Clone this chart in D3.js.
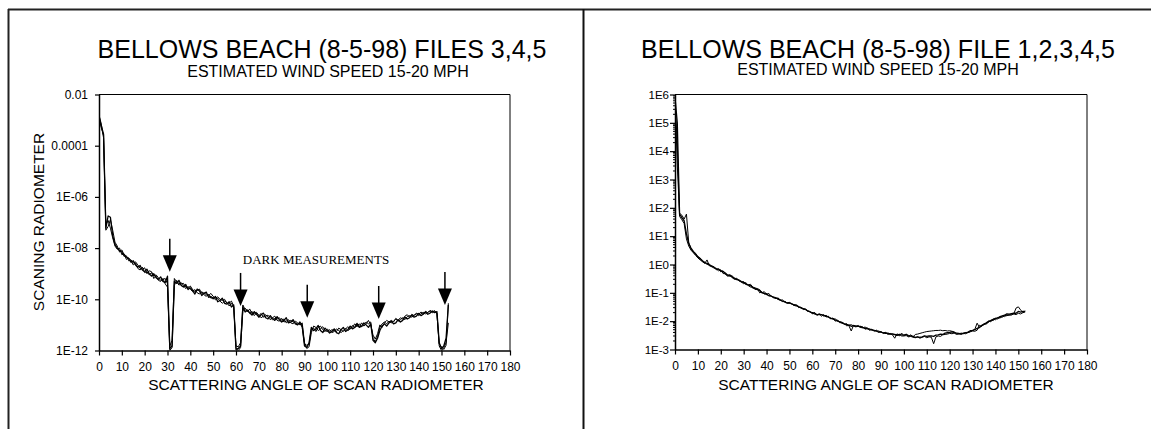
<!DOCTYPE html>
<html>
<head>
<meta charset="utf-8">
<script src="https://cdn.jsdelivr.net/npm/d3@7"></script>
<style>
body { margin: 0; background: #fff; }
svg { display: block; font-family: "Liberation Sans", Arial, sans-serif; }
</style>
</head>
<body>
<div id="chart"></div>
<script>
// scan angle of every sample, degrees
var scanAngles = [0,1,2,3,4,5,6,7,8,9,10,11,12,13,14,15,16,17,18,19,20,21,22,23,24,25,26,27,28,29,
    30,31,32,33,34,35,36,37,38,39,40,41,42,43,44,45,46,47,48,49,50,51,52,53,54,55,56,57,58,59,
    60,61,62,63,64,65,66,67,68,69,70,71,72,73,74,75,76,77,78,79,80,81,82,83,84,85,86,87,88,89,
    90,91,92,93,94,95,96,97,98,99,100,101,102,103,104,105,106,107,108,109,110,111,112,113,114,115,116,117,118,119,
    120,121,122,123,124,125,126,127,128,129,130,131,132,133,134,135,136,137,138,139,140,141,142,143,144,145,146,147,148,149,
    150,151,152,153];
var xTicks = [0,10,20,30,40,50,60,70,80,90,100,110,120,130,140,150,160,170,180];

// left chart: files 3,4,5
var leftYTicks = [1e-2, 1e-4, 1e-6, 1e-8, 1e-10, 1e-12];
var leftYLabels = ["0.01", "0.0001", "1E-06", "1E-08", "1E-10", "1E-12"];
var file3 = [1.4e-3,6e-4,2.8e-4,6e-8,1.8e-7,1.6e-7,3e-8,1.4e-8,1e-8,8e-9,7e-9,5e-9,4.5e-9,3.8e-9,2.8e-9,3.2e-9,2.2e-9,1.8e-9,2.1e-9,1.4e-9,
    1.2e-9,1.5e-9,1e-9,8e-10,1e-9,7e-10,6e-10,7.5e-10,5e-10,4.5e-10,8e-10,1.2e-12,1.5e-12,5e-10,4.2e-10,5.5e-10,3.5e-10,3e-10,3.8e-10,2.4e-10,
    2.8e-10,2.2e-10,1.6e-10,2.5e-10,2.1e-10,1.4e-10,1.7e-10,1.9e-10,1.2e-10,1.3e-10,1.05e-10,1.3e-10,8e-11,9e-11,1.1e-10,7e-11,6.5e-11,8e-11,5e-11,6e-11,
    1.1e-12,1.2e-12,1.5e-12,5e-11,3.2e-11,3.8e-11,3e-11,2.4e-11,3.3e-11,2.6e-11,2e-11,2.5e-11,2.9e-11,1.9e-11,1.7e-11,2.3e-11,1.8e-11,1.5e-11,2.1e-11,1.6e-11,
    1.3e-11,1.5e-11,1.9e-11,1.2e-11,1.3e-11,1.6e-11,1.1e-11,1e-11,1.3e-11,9e-12,1.5e-12,1.3e-12,2e-12,8e-12,6e-12,7e-12,9.5e-12,6e-12,5e-12,7.5e-12,
    6e-12,4.8e-12,5.5e-12,7e-12,5e-12,4.5e-12,6.5e-12,8e-12,5.5e-12,6.5e-12,9e-12,7e-12,8e-12,1.15e-11,8e-12,9e-12,1.2e-11,1e-11,8e-12,1.1e-11,
    2.5e-12,2e-12,3e-12,6e-12,9e-12,1.1e-11,9e-12,1.2e-11,1.4e-11,1.1e-11,1.2e-11,1.6e-11,1.3e-11,1.5e-11,2e-11,1.7e-11,1.9e-11,2.4e-11,2e-11,2.2e-11,
    2.8e-11,2.3e-11,2.6e-11,3.2e-11,2.6e-11,2.9e-11,3.5e-11,3e-11,3.3e-11,2e-12,1.2e-12,1.5e-12,3e-12,6e-11];
var file4 = [1.2e-3,5e-4,2.5e-4,8e-8,1.2e-7,6e-8,2.5e-8,1.2e-8,9e-9,1e-8,5.5e-9,6e-9,3.6e-9,4.2e-9,3.2e-9,2.2e-9,2.6e-9,1.6e-9,1.4e-9,1.8e-9,
    1.1e-9,1.2e-9,9e-10,1.1e-9,6.5e-10,8e-10,5.5e-10,5e-10,6.5e-10,4e-10,3e-10,1e-12,1.3e-12,3.5e-10,5.5e-10,4e-10,4.5e-10,3.5e-10,2.6e-10,3.2e-10,
    2.5e-10,2e-10,2.4e-10,1.8e-10,1.6e-10,2e-10,1.5e-10,1.3e-10,1.6e-10,1.1e-10,1.2e-10,9.5e-11,1.1e-10,8.5e-11,7e-11,8.5e-11,7.5e-11,5.5e-11,7e-11,5e-11,
    1.2e-12,1e-12,1.3e-12,3.5e-11,4.5e-11,3.6e-11,2.8e-11,3.4e-11,2.3e-11,2.9e-11,2.4e-11,1.9e-11,2.2e-11,2.5e-11,2e-11,1.6e-11,1.9e-11,2.2e-11,1.5e-11,1.4e-11,
    1.8e-11,1.3e-11,1.4e-11,1.6e-11,1.2e-11,1.1e-11,1.4e-11,1.2e-11,1e-11,1.2e-11,2e-12,1.2e-12,1.4e-12,5e-12,9e-12,8e-12,6e-12,7e-12,8.5e-12,6e-12,
    5.5e-12,6.5e-12,5e-12,5.5e-12,7e-12,6e-12,5e-12,6e-12,7.5e-12,6e-12,7e-12,9.5e-12,8e-12,9e-12,1.1e-11,8.5e-12,1e-11,1.3e-11,1.1e-11,1.3e-11,
    3e-12,2.2e-12,3.5e-12,8e-12,1.1e-11,1.3e-11,1.1e-11,1.4e-11,1.2e-11,1.4e-11,1.7e-11,1.4e-11,1.6e-11,1.9e-11,1.6e-11,2.1e-11,2.3e-11,2e-11,2.4e-11,2.7e-11,
    2.3e-11,2.7e-11,3.1e-11,2.7e-11,3.1e-11,3.5e-11,3e-11,3.4e-11,2.9e-11,1.5e-12,1e-12,1.3e-12,2e-12,1.2e-11];
var file5 = [1.6e-3,7e-4,2e-4,5e-8,7e-8,1.3e-7,5e-8,1.7e-8,1.2e-8,7e-9,8.5e-9,5.5e-9,5e-9,3.2e-9,3.5e-9,2.6e-9,2.9e-9,2.2e-9,1.6e-9,1.5e-9,
    1.7e-9,1e-9,1.3e-9,1.2e-9,8e-10,9e-10,7e-10,5.5e-10,6e-10,6.5e-10,4e-10,1.5e-12,2.5e-12,6.5e-10,4.8e-10,3.6e-10,4e-10,4.2e-10,3e-10,2.7e-10,
    3.3e-10,2.4e-10,2e-10,2.2e-10,2.5e-10,1.7e-10,1.8e-10,1.5e-10,1.4e-10,1.7e-10,1.3e-10,1.1e-10,1.25e-10,1e-10,9e-11,1e-10,7e-11,7e-11,8.5e-11,5.5e-11,
    1.5e-12,1.4e-12,2e-12,6e-11,4e-11,3.2e-11,4.2e-11,2.7e-11,2.8e-11,3.1e-11,2.3e-11,2.8e-11,2e-11,2.2e-11,2.4e-11,1.9e-11,1.6e-11,1.8e-11,1.7e-11,1.9e-11,
    1.5e-11,1.7e-11,1.2e-11,1.4e-11,1.5e-11,1.3e-11,1.2e-11,1.1e-11,1.15e-11,8e-12,1.8e-12,1.6e-12,1.8e-12,7e-12,7.5e-12,5.5e-12,8e-12,9e-12,6.5e-12,5.5e-12,
    7e-12,5.5e-12,6.5e-12,6e-12,5.5e-12,7.5e-12,6.5e-12,5.5e-12,7e-12,8.5e-12,7e-12,8e-12,1.1e-11,9e-12,8.5e-12,1.2e-11,9e-12,1.1e-11,1.5e-11,1e-11,
    4e-12,2.8e-12,4.5e-12,1e-11,8e-12,1.2e-11,1.5e-11,1.3e-11,1.5e-11,1.3e-11,1.8e-11,1.5e-11,1.9e-11,1.7e-11,2.2e-11,2.5e-11,2e-11,2.6e-11,2.3e-11,2.9e-11,
    2.6e-11,3.2e-11,2.7e-11,3.4e-11,3e-11,3.7e-11,3.2e-11,3.6e-11,2.7e-11,1.8e-12,1.4e-12,1.1e-12,1.6e-12,7e-11];
var darkAngles = [31, 62, 91.2, 122.5, 151.5];
var darkTips = [1.2e-9, 5.5e-11, 1.9e-11, 1.7e-11, 6e-11];
var darkLabelAt = [63, 2.3e-9];

// right chart: files 1,2,3,4,5
var rightYTicks = [1e6, 1e5, 1e4, 1e3, 1e2, 1e1, 1e0, 1e-1, 1e-2, 1e-3];
var rightYLabels = ["1E6", "1E5", "1E4", "1E3", "1E2", "1E1", "1E0", "1E-1", "1E-2", "1E-3"];
var run1 = [8e5,1e5,60,45,35,12,5.5,3.8,2.9,2.3,1.9,1.6,1.35,1.15,1.1,0.95,0.9,0.8,0.72,0.7,
    0.6,0.56,0.5,0.42,0.43,0.36,0.33,0.29,0.28,0.25,0.23,0.2,0.19,0.18,0.15,0.14,0.13,0.12,0.1,0.095,
    0.088,0.08,0.076,0.07,0.064,0.065,0.055,0.051,0.048,0.043,0.044,0.041,0.038,0.037,0.032,0.03,0.028,0.026,0.023,0.021,
    0.02,0.018,0.017,0.017,0.017,0.016,0.015,0.014,0.0125,0.012,0.011,0.01,0.0095,0.0085,0.008,0.0076,0.0072,0.0066,0.0069,0.0068,
    0.0066,0.0066,0.006,0.0056,0.0054,0.0053,0.0049,0.0047,0.0045,0.0041,0.0041,0.0039,0.0037,0.0038,0.0035,0.0035,0.0034,0.0032,0.0034,0.0033,
    0.0032,0.0034,0.0031,0.003,0.0029,0.0027,0.0028,0.0027,0.0028,0.003,0.0029,0.003,0.003,0.0029,0.0032,0.0033,0.0035,0.0034,0.0038,0.0039,
    0.004,0.0042,0.0039,0.0038,0.0037,0.0035,0.0038,0.0039,0.0041,0.0046,0.0047,0.005,0.0056,0.0059,0.0071,0.0079,0.0087,0.01,0.0105,0.0115,
    0.0126,0.013,0.0145,0.0155,0.0162,0.018,0.0178,0.0186,0.019,0.019,0.022,0.021,0.022,0.022];
var run2 = [5e5,2e4,50,38,28,8,4.5,3.2,2.6,2.1,1.7,1.45,1.25,1.1,1.45,0.9,0.85,0.75,0.7,0.6,
    0.65,0.48,0.47,0.38,0.42,0.34,0.3,0.33,0.26,0.24,0.21,0.23,0.18,0.16,0.16,0.13,0.14,0.1,0.11,0.09,
    0.095,0.078,0.08,0.066,0.068,0.058,0.057,0.049,0.05,0.044,0.046,0.04,0.036,0.037,0.03,0.031,0.026,0.027,0.022,0.022,
    0.018,0.02,0.016,0.018,0.015,0.017,0.014,0.015,0.012,0.013,0.01,0.011,0.0088,0.009,0.0077,0.0082,0.0068,0.0045,0.0072,0.0064,
    0.0071,0.006,0.0063,0.0052,0.0057,0.0048,0.0052,0.0044,0.0048,0.0041,0.0043,0.0037,0.004,0.0034,0.0037,0.0033,0.0025,0.0036,0.003,0.0038,
    0.0031,0.0035,0.0029,0.0033,0.0028,0.0034,0.0035,0.0037,0.0039,0.0041,0.0043,0.0044,0.0045,0.0046,0.0047,0.0047,0.0048,0.0046,0.0047,0.0045,
    0.0046,0.0044,0.0042,0.0036,0.0035,0.0038,0.0036,0.004,0.0039,0.0043,0.0045,0.0044,0.0048,0.0072,0.0065,0.0082,0.0078,0.01,0.0095,0.012,
    0.011,0.0135,0.0128,0.015,0.0145,0.0165,0.016,0.017,0.018,0.029,0.032,0.025,0.02,0.021];
var run3 = [9e5,3e3,65,55,40,60,6,3.5,2.7,2.5,1.8,1.7,1.3,1.2,1.0,1.05,0.82,0.85,0.65,0.68,
    0.55,0.6,0.45,0.42,0.38,0.4,0.31,0.3,0.28,0.24,0.25,0.2,0.19,0.2,0.16,0.15,0.14,0.13,0.1,0.11,
    0.09,0.095,0.075,0.072,0.068,0.06,0.055,0.056,0.047,0.045,0.043,0.042,0.036,0.034,0.033,0.029,0.027,0.026,0.023,0.022,
    0.019,0.02,0.017,0.018,0.017,0.015,0.016,0.014,0.013,0.012,0.012,0.0105,0.0095,0.0092,0.0082,0.0068,0.0072,0.0075,0.0068,0.0063,
    0.0066,0.006,0.0058,0.0062,0.0057,0.005,0.0049,0.0047,0.0044,0.0045,0.0041,0.0039,0.004,0.0036,0.0035,0.0036,0.0033,0.0031,0.0034,0.003,
    0.003,0.0031,0.0028,0.0029,0.0027,0.0026,0.0028,0.0025,0.0027,0.0029,0.0026,0.0028,0.0027,0.0016,0.0028,0.003,0.0029,0.0033,0.0034,0.0035,
    0.0037,0.0036,0.0038,0.0034,0.0036,0.0035,0.0037,0.0036,0.004,0.0042,0.0046,0.0052,0.0085,0.006,0.0068,0.0075,0.0085,0.009,0.011,0.0105,
    0.0125,0.012,0.014,0.0138,0.016,0.0155,0.017,0.0165,0.018,0.017,0.019,0.018,0.02,0.023];
var rightMinorTicks = [];
rightYTicks.slice(1).forEach(function (t) {
    [2,3,4,5,6,7,8,9].forEach(function (m) { rightMinorTicks.push(t * m); });
});

var W = 1151, H = 429;
var svg = d3.select("#chart").append("svg")
    .attr("width", W)
    .attr("height", H);
svg.append("rect").attr("width", W).attr("height", H).attr("fill", "#fff");

// page frame
svg.append("line").attr("x1", 8).attr("x2", W).attr("y1", 9.5).attr("y2", 9.5)
    .attr("stroke", "#222").attr("stroke-width", 2);
svg.append("line").attr("x1", 8.5).attr("x2", 8.5).attr("y1", 9).attr("y2", H)
    .attr("stroke", "#222").attr("stroke-width", 2);
svg.append("line").attr("x1", 583.5).attr("x2", 583.5).attr("y1", 9).attr("y2", H)
    .attr("stroke", "#111").attr("stroke-width", 2);

function drawPanel(p) {
    var g = svg.append("g");
    var x = d3.scaleLinear().domain([0, 180]).range([p.left, p.right]);
    var y = d3.scaleLog().domain(p.yDomain).range([p.bottom, p.top]);

    g.append("text").attr("x", p.titleX).attr("y", 58)
        .attr("text-anchor", "middle").attr("font-size", "25px").text(p.title);
    g.append("text").attr("x", p.subX).attr("y", p.subY)
        .attr("text-anchor", "middle").attr("font-size", "16px").text("ESTIMATED WIND SPEED 15-20 MPH");

    var clipId = "clip" + p.id;
    g.append("clipPath").attr("id", clipId).append("rect")
        .attr("x", p.left).attr("y", p.top)
        .attr("width", p.right - p.left).attr("height", p.bottom - p.top);

    var line = d3.line()
        .x(function (d, i) { return x(scanAngles[i]); })
        .y(function (d) { return y(d); });
    g.append("g").attr("clip-path", "url(#" + clipId + ")")
        .selectAll("path")
        .data(p.series)
        .enter()
        .append("path")
        .attr("d", line)
        .attr("fill", "none")
        .attr("stroke", "#000")
        .attr("stroke-width", function (d, i) { return i == 0 ? 1.3 : 1; })
        .attr("stroke-linejoin", "round");

    // frame top/right
    g.append("line").attr("x1", p.left).attr("x2", p.right).attr("y1", p.top).attr("y2", p.top)
        .attr("stroke", "#000").attr("stroke-width", 1);
    g.append("line").attr("x1", p.right).attr("x2", p.right).attr("y1", p.top).attr("y2", p.bottom)
        .attr("stroke", "#000").attr("stroke-width", 1);

    var xAxis = d3.axisBottom(x).tickValues(xTicks).tickSize(5).tickSizeOuter(0).tickPadding(6.5);
    var gx = g.append("g").attr("transform", "translate(0," + p.bottom + ")").call(xAxis);
    gx.selectAll("text").attr("font-size", "12px").attr("fill", "#000").attr("font-family", null);
    gx.select(".domain").attr("stroke-width", 1.5);
    gx.selectAll(".tick line").attr("stroke-width", 1.2);

    if (p.minorTicks) {
        g.append("g").selectAll("line")
            .data(p.minorTicks)
            .enter()
            .append("line")
            .attr("x1", p.left - 2).attr("x2", p.left)
            .attr("y1", function (d) { return y(d); })
            .attr("y2", function (d) { return y(d); })
            .attr("stroke", "#000");
    }
    var yAxis = d3.axisLeft(y).tickValues(p.yTicks)
        .tickFormat(function (d, i) { return p.yLabels[i]; })
        .tickSize(p.tickLen).tickSizeOuter(0).tickPadding(p.tickPad);
    var gy = g.append("g").attr("transform", "translate(" + p.left + ",0)").call(yAxis);
    gy.selectAll("text").attr("font-size", p.yFont).attr("fill", "#000").attr("font-family", null);
    gy.select(".domain").attr("stroke-width", 1.5);
    gy.selectAll(".tick line").attr("stroke-width", 1.2);

    g.append("text").attr("x", p.xTitleX).attr("y", 390)
        .attr("text-anchor", "middle").attr("font-size", "15.5px")
        .text("SCATTERING ANGLE OF SCAN RADIOMETER");

    return { x: x, y: y, g: g };
}

var left = drawPanel({
    id: "L", left: 99, right: 510, top: 94.5, bottom: 350.5,
    yDomain: [1e-12, 1e-2], yTicks: leftYTicks, yLabels: leftYLabels,
    tickLen: 4, tickPad: 7, yFont: "12px",
    series: [file3, file4, file5],
    title: "BELLOWS BEACH (8-5-98) FILES 3,4,5", titleX: 322,
    subX: 328, subY: 76.5, xTitleX: 316
});
left.g.append("text")
    .attr("transform", "translate(44,222) rotate(-90)")
    .attr("text-anchor", "middle").attr("font-size", "15.5px")
    .text("SCANING RADIOMETER");

// dark measurement arrows
var arrows = left.g.append("g").selectAll("g")
    .data(darkAngles)
    .enter()
    .append("g")
    .attr("transform", function (d, i) {
        return "translate(" + left.x(d) + "," + left.y(darkTips[i]) + ")";
    });
arrows.append("line").attr("x1", 0).attr("x2", 0).attr("y1", -33).attr("y2", -15)
    .attr("stroke", "#000").attr("stroke-width", 1.5);
arrows.append("path").attr("d", "M-7,-16.5L7,-16.5L0,0Z").attr("fill", "#000");
left.g.append("text")
    .attr("x", left.x(darkLabelAt[0])).attr("y", left.y(darkLabelAt[1]))
    .attr("font-family", "'Liberation Serif', 'Times New Roman', serif")
    .attr("font-size", "13px")
    .text("DARK MEASUREMENTS");

var right = drawPanel({
    id: "R", left: 675, right: 1087, top: 94.5, bottom: 349.5,
    yDomain: [1e-3, 1e6], yTicks: rightYTicks, yLabels: rightYLabels,
    tickLen: 5, tickPad: 1, yFont: "11.5px", minorTicks: rightMinorTicks,
    series: [run1, run2, run3],
    title: "BELLOWS BEACH (8-5-98) FILE 1,2,3,4,5", titleX: 878,
    subX: 878, subY: 75, xTitleX: 886
});
// y title on this panel only printed as a thin broken strip
right.g.append("clipPath").attr("id", "ytitleR").append("rect")
    .attr("x", 601.5).attr("y", 100).attr("width", 4.5).attr("height", 240);
right.g.append("text")
    .attr("clip-path", "url(#ytitleR)")
    .attr("transform", "translate(609,222) rotate(-90)")
    .attr("text-anchor", "middle").attr("font-size", "15.5px").attr("fill", "#333")
    .text("SCANING RADIOMETER");
</script>
</body>
</html>
